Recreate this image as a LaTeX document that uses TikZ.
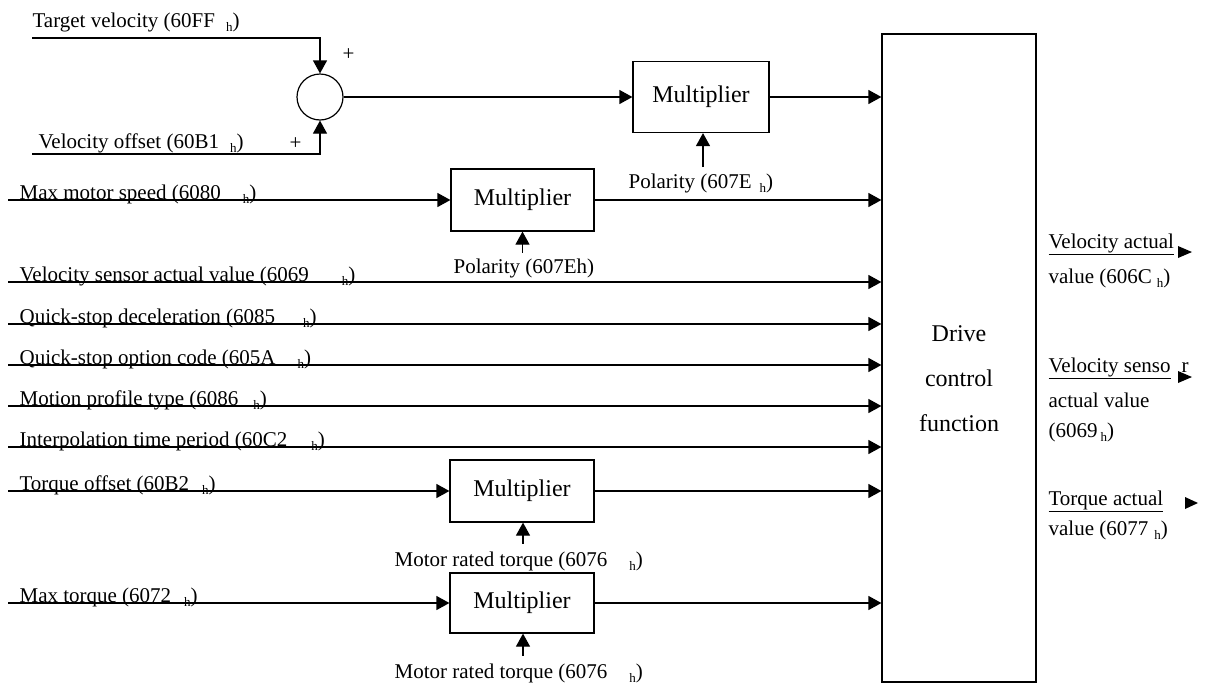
\documentclass[tikz,border=0pt]{standalone}
\usepackage{fontspec}
\setmainfont{Liberation Serif}
\usetikzlibrary{arrows.meta}
\newcommand\hsub[1]{\hspace*{#1pt}\raisebox{-4pt}{\fontsize{13}{13}\selectfont h}}
\begin{document}
\begin{tikzpicture}[x=1pt,y=-1pt,
  line width=1.2pt,
  arr/.style={-{Triangle[length=13pt,width=14pt]}},
  lbl/.style={anchor=base west,inner sep=0pt,font=\fontsize{21}{24}\selectfont},
  mult/.style={draw,rectangle,inner sep=0pt,minimum width=144pt,minimum height=62pt,font=\fontsize{24}{28}\selectfont},
  outtri/.style={fill=black}]
\useasboundingbox (0,0) rectangle (1205,686);
% main nodes
\node[draw,circle,minimum size=46pt,inner sep=0pt] (sum) at (320,97) {};
\node[mult,minimum width=136pt,minimum height=71pt] (m1) at (701,97) {Multiplier};
\node[mult,minimum width=143pt] (m2) at (522.5,200) {Multiplier};
\node[mult] (m3) at (522,491) {Multiplier};
\node[mult,minimum height=60pt] (m4) at (522,603) {Multiplier};
\node[draw,rectangle,inner sep=0pt,minimum width=154pt,minimum height=648pt] (drive) at (959,358) {};
\node[align=center,inner sep=0pt,font=\fontsize{24}{45}\selectfont] (drivetxt) at (959,379) {Drive\\control\\function};
% input coordinates
\coordinate (tv) at (32,38);
\coordinate (vo) at (32,154);
\coordinate (i1) at (8,200);
\coordinate (i2) at (8,282);
\coordinate (i3) at (8,324);
\coordinate (i4) at (8,365);
\coordinate (i5) at (8,406);
\coordinate (i6) at (8,447);
\coordinate (i7) at (8,491);
\coordinate (i8) at (8,603);
% labels
\node[lbl] (ltv) at (32,27) {Target velocity (60FF\hsub{11})};
\node[lbl] (lvo) at (38,148) {Velocity offset (60B1\hsub{11})};
\node[lbl] (pl1) at (342,60) {+};
\node[lbl] (pl2) at (289,149) {+};
\node[lbl] (l1) at (19,199) {Max motor speed (6080\hsub{22})};
\node[lbl] (l2) at (19,281) {Velocity sensor actual value (6069\hsub{33})};
\node[lbl] (l3) at (19,323) {Quick-stop deceleration (6085\hsub{28})};
\node[lbl] (l4) at (19,364) {Quick-stop option code (605A\hsub{22})};
\node[lbl] (l5) at (19,405) {Motion profile type (6086\hsub{15})};
\node[lbl] (l6) at (19,446) {Interpolation time period (60C2\hsub{24})};
\node[lbl] (l7) at (19,490) {Torque offset (60B2\hsub{13})};
\node[lbl] (l8) at (19,602) {Max torque (6072\hsub{13})};
\node[lbl] (pol1) at (628,188) {Polarity (607E\hsub{8})};
\node[lbl] (pol2) at (453,273) {Polarity (607Eh)};
\node[lbl] (mrt1) at (394,566) {Motor rated torque (6076\hsub{22})};
\node[lbl] (mrt2) at (394,678) {Motor rated torque (6076\hsub{22})};
% outputs
\node[lbl] (o1a) at (1048,248) {\underline{Velocity actual}};
\node[lbl] (o1b) at (1048,283) {value (606C\hsub{5})};
\node[lbl] (o2a) at (1048,372) {\underline{Velocity senso}};
\node[lbl] (o2r) at (1181,372) {r};
\node[lbl] (o2b) at (1048,407) {actual value};
\node[lbl] (o2c) at (1048,437) {(6069\hsub{3})};
\node[lbl] (o3a) at (1048,505) {\underline{Torque actual}};
\node[lbl] (o3b) at (1048,535) {value (6077\hsub{6})};
\fill[outtri] (1178,246) -- (1192,252) -- (1178,258) -- cycle;
\fill[outtri] (1178,371) -- (1192,377) -- (1178,383) -- cycle;
\fill[outtri] (1185,497) -- (1198,503) -- (1185,509) -- cycle;
% connectors
\draw[arr] (tv) -| (sum.north);
\draw[arr] (vo) -| (sum.south);
\draw[arr] (sum.east) -- (sum.east -| m1.west);
\draw[arr] (m1.east) -- (m1.east -| drive.west);
\draw[arr] ([xshift=2pt,yshift=-34pt]m1.south) -- ([xshift=2pt]m1.south);
\draw[arr] (i1) -- (m2.west);
\draw[arr] (m2.east) -- (m2.east -| drive.west);
\draw[arr] ([yshift=-21pt]m2.south) -- (m2.south);
\draw[arr] (i2) -- (i2 -| drive.west);
\draw[arr] (i3) -- (i3 -| drive.west);
\draw[arr] (i4) -- (i4 -| drive.west);
\draw[arr] (i5) -- (i5 -| drive.west);
\draw[arr] (i6) -- (i6 -| drive.west);
\draw[arr] (i7) -- (m3.west);
\draw[arr] (m3.east) -- (m3.east -| drive.west);
\draw[arr] ([xshift=1pt,yshift=-21pt]m3.south) -- ([xshift=1pt]m3.south);
\draw[arr] (i8) -- (m4.west);
\draw[arr] (m4.east) -- (m4.east -| drive.west);
\draw[arr] ([xshift=1pt,yshift=-22pt]m4.south) -- ([xshift=1pt]m4.south);
\end{tikzpicture}
\end{document}
